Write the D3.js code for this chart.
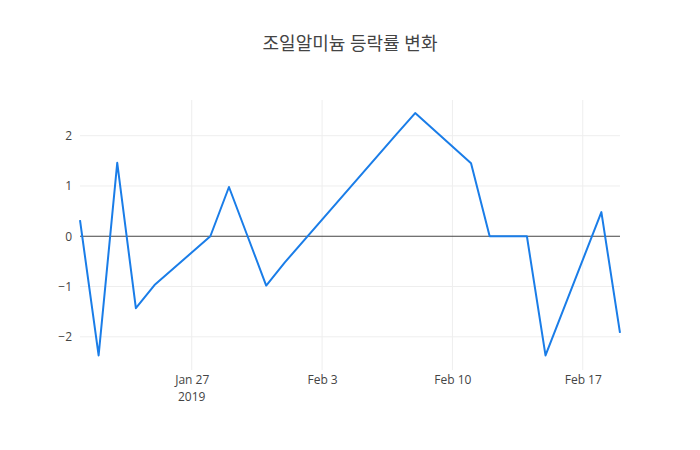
<!DOCTYPE html>
<html>
<head>
<meta charset="utf-8">
<script src="https://cdn.jsdelivr.net/npm/d3@7"></script>
<style>
  body { margin: 0; background: #fff; }
  svg text { font-family: "Open Sans", "Noto Sans CJK KR", sans-serif; fill: #444; }
</style>
</head>
<body>
<div id="chart"></div>
<script>
// trading days and daily change (%)
var dates = ["2019-01-21", "2019-01-22", "2019-01-23", "2019-01-24", "2019-01-25",
             "2019-01-28", "2019-01-29", "2019-01-30", "2019-01-31", "2019-02-01",
             "2019-02-07", "2019-02-08", "2019-02-11", "2019-02-12", "2019-02-13",
             "2019-02-14", "2019-02-15", "2019-02-18", "2019-02-19"];
var changes = [0.32, -2.37, 1.46, -1.43, -0.97,
               0, 0.98, 0, -0.98, -0.52,
               2.03, 2.45, 1.45, 0, 0,
               0, -2.37, 0.48, -1.92];
var yTicks = [-2, -1, 0, 1, 2];
var xTickDates = ["2019-01-27", "2019-02-03", "2019-02-10", "2019-02-17"];
var chartTitle = "조일알미늄 등락률 변화";

var width = 700, height = 450;
var margin = {top: 100, right: 80, bottom: 80, left: 80};

var parse = d3.timeParse("%Y-%m-%d");
var data = dates.map(function (d, i) { return {date: parse(d), value: changes[i]}; });

var svg = d3.select("#chart").append("svg")
    .attr("width", width)
    .attr("height", height);

var x = d3.scaleTime()
    .domain(d3.extent(data, function (d) { return d.date; }))
    .range([margin.left, width - margin.right]);

var y = d3.scaleLinear()
    .domain([-2.66, 2.71])
    .range([height - margin.bottom, margin.top]);

// grid lines
svg.append("g")
    .selectAll("line")
    .data(yTicks.filter(function (t) { return t !== 0; }))
    .enter().append("line")
    .attr("x1", margin.left).attr("x2", width - margin.right)
    .attr("y1", function (d) { return y(d); }).attr("y2", function (d) { return y(d); })
    .attr("stroke", "#eee").attr("stroke-width", 1);

svg.append("g")
    .selectAll("line")
    .data(xTickDates.map(parse))
    .enter().append("line")
    .attr("x1", function (d) { return x(d); }).attr("x2", function (d) { return x(d); })
    .attr("y1", margin.top).attr("y2", height - margin.bottom)
    .attr("stroke", "#eee").attr("stroke-width", 1);

// zero line
svg.append("line")
    .attr("x1", margin.left).attr("x2", width - margin.right)
    .attr("y1", y(0)).attr("y2", y(0))
    .attr("stroke", "#444").attr("stroke-width", 1);

// y axis labels
var yAxis = d3.axisLeft(y).tickValues(yTicks).tickSize(0).tickPadding(8)
    .tickFormat(function (d) { return d < 0 ? "\u2212" + Math.abs(d) : d; });
var gy = svg.append("g")
    .attr("transform", "translate(" + margin.left + ",0)")
    .call(yAxis);
gy.select(".domain").remove();
gy.selectAll("text").style("font-size", "12px").attr("fill", "#444");

// x axis labels
var fmt = d3.timeFormat("%b %-d");
var xAxis = d3.axisBottom(x).tickValues(xTickDates.map(parse)).tickSize(0).tickPadding(5)
    .tickFormat(fmt);
var gx = svg.append("g")
    .attr("transform", "translate(0," + (height - margin.bottom) + ")")
    .call(xAxis);
gx.select(".domain").remove();
gx.selectAll("text").style("font-size", "12px").attr("fill", "#444");

// year under the first tick
svg.append("text")
    .attr("x", x(parse(xTickDates[0])))
    .attr("y", height - margin.bottom + 31)
    .attr("text-anchor", "middle")
    .style("font-size", "12px")
    .text("2019");

// line
var line = d3.line()
    .x(function (d) { return x(d.date); })
    .y(function (d) { return y(d.value); });

svg.append("path")
    .datum(data)
    .attr("d", line)
    .attr("fill", "none")
    .attr("stroke", "#1a7de8")
    .attr("stroke-width", 2)
    .attr("stroke-linejoin", "round");

// title
svg.append("text")
    .attr("x", width / 2)
    .attr("y", 50)
    .attr("text-anchor", "middle")
    .style("font-size", "18px")
    .text(chartTitle);
</script>
</body>
</html>
